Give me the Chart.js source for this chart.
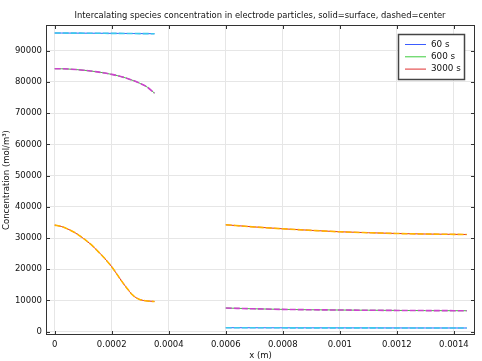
<!DOCTYPE html>
<html lang="en">
<head>
<meta charset="UTF-8">
<title>concentration</title>
<script src="https://cdn.jsdelivr.net/npm/chart.js"></script>
<style>
  html, body { margin: 0; padding: 0; background: #fff; }
  #wrap { width: 482px; height: 361px; }
</style>
</head>
<body>
<div id="wrap"><canvas id="canvas" width="482" height="361"></canvas></div>
<script>
// x positions (m) in the negative and positive electrode
const xNeg = [0, 0.000025, 0.00005, 0.000075, 0.0001, 0.000125, 0.00015, 0.000175,
              0.0002, 0.000225, 0.00025, 0.000275, 0.0003, 0.000325, 0.00035];
const xPos = [0.0006, 0.0007, 0.0008, 0.0009, 0.001, 0.0011, 0.0012, 0.0013, 0.0014, 0.001445];

// surface concentration (mol/m^3)
const neg60   = [95650, 95640, 95630, 95615, 95600, 95590, 95575, 95560, 95545, 95530, 95510, 95490, 95470, 95450, 95430];
const neg600  = [84230, 84200, 84100, 83950, 83750, 83500, 83200, 82850, 82400, 81880, 81250, 80450, 79500, 78300, 76400];
const neg3000 = [34130, 33650, 32700, 31500, 29900, 28100, 25900, 23500, 20800, 17500, 14300, 11600, 10250, 9850, 9650];
const pos60   = [1280, 1260, 1240, 1230, 1220, 1210, 1200, 1190, 1185, 1180];
const pos600  = [7580, 7330, 7140, 7030, 6940, 6870, 6810, 6760, 6730, 6720];
const pos3000 = [34230, 33550, 32950, 32450, 32000, 31700, 31450, 31280, 31170, 31130];

// center values lie on top of the surface ones at this scale
const labels = ['60 s', '600 s', '3000 s'];
const solidColors  = ['#3b5cff', '#3ccc3c', '#e03030'];
const dashedColors = ['#3cc8ec', '#cc44cc', '#ffb400'];

const xTicks = [0, 0.0002, 0.0004, 0.0006, 0.0008, 0.001, 0.0012, 0.0014];
const yTicks = [0, 10000, 20000, 30000, 40000, 50000, 60000, 70000, 80000, 90000];

function joinPoints(neg, pos) {
    const pts = xNeg.map((x, i) => ({ x: x, y: neg[i] }));
    pts.push({ x: 0.000475, y: null });
    xPos.forEach((x, i) => pts.push({ x: x, y: pos[i] }));
    return pts;
}

const series = [[neg60, pos60], [neg600, pos600], [neg3000, pos3000]];
const datasets = [];
series.forEach((s, i) => {
    datasets.push({ label: labels[i], data: joinPoints(s[0], s[1]), borderColor: solidColors[i],
                    borderWidth: 1, order: 2 });
});
series.forEach((s, i) => {
    datasets.push({ label: labels[i] + ' center', data: joinPoints(s[0], s[1]), borderColor: dashedColors[i],
                    borderWidth: 1.6, borderDash: [6, 2], order: 1 });
});

const font = { family: 'DejaVu Sans', size: 8.5 };

// frame, inward ticks on all sides, title and legend
const decor = {
    id: 'decor',
    afterDraw(chart) {
        const c = chart.ctx, a = chart.chartArea;
        const xs = chart.scales.x, ys = chart.scales.y;
        c.save();
        c.strokeStyle = '#333';
        c.lineWidth = 1;
        c.beginPath();
        xTicks.forEach(v => {
            const px = Math.round(xs.getPixelForValue(v)) + 0.5;
            c.moveTo(px, a.bottom); c.lineTo(px, a.bottom - 4);
            c.moveTo(px, a.top); c.lineTo(px, a.top + 4);
        });
        yTicks.forEach(v => {
            const py = Math.round(ys.getPixelForValue(v)) + 0.5;
            c.moveTo(a.left, py); c.lineTo(a.left + 4, py);
            c.moveTo(a.right, py); c.lineTo(a.right - 4, py);
        });
        c.stroke();
        c.strokeRect(a.left + 0.5, a.top + 0.5, a.right - a.left - 1, a.bottom - a.top - 1);

        c.fillStyle = '#111';
        c.font = '8.4px "DejaVu Sans"';
        c.textAlign = 'center';
        c.textBaseline = 'middle';
        c.fillText('Intercalating species concentration in electrode particles, solid=surface, dashed=center', 260, 16);

        // legend
        const lx = 398, ly = 34, lw = 66, lh = 45;
        c.fillStyle = '#fff';
        c.fillRect(lx, ly, lw, lh);
        c.strokeStyle = '#444';
        c.lineWidth = 1.5;
        c.strokeRect(lx + 0.5, ly + 0.5, lw, lh);
        c.textAlign = 'left';
        c.font = '8.8px "DejaVu Sans"';
        labels.forEach((t, i) => {
            const y = 44.5 + i * 12.3;
            c.strokeStyle = solidColors[i];
            c.lineWidth = 1;
            c.beginPath(); c.moveTo(405, y); c.lineTo(426, y); c.stroke();
            c.fillStyle = '#111';
            c.fillText(t, 431, y);
        });
        c.restore();
    }
};

new Chart(document.getElementById('canvas'), {
    type: 'line',
    data: { datasets: datasets },
    options: {
        responsive: false,
        animation: false,
        layout: { padding: { top: 25, right: 7, left: 0, bottom: 0 } },
        elements: { point: { radius: 0 }, line: { cubicInterpolationMode: 'monotone' } },
        spanGaps: false,
        plugins: { legend: { display: false }, tooltip: { enabled: false }, title: { display: false } },
        scales: {
            x: {
                type: 'linear',
                min: -0.0000305, max: 0.001474,
                afterBuildTicks: s => { s.ticks = xTicks.map(v => ({ value: v })); },
                afterFit: s => { s.height = 26; },
                grid: { color: '#e6e6e6', drawTicks: false },
                border: { display: false },
                ticks: { font: font, color: '#111', padding: 5, maxRotation: 0,
                         callback: v => String(parseFloat(v.toFixed(6))) },
                title: { display: true, text: 'x (m)', font: font, color: '#111', padding: { top: 0, bottom: 0 } }
            },
            y: {
                type: 'linear',
                min: -1060, max: 98220,
                afterBuildTicks: s => { s.ticks = yTicks.map(v => ({ value: v })); },
                afterFit: s => { s.width = 46; },
                grid: { color: '#e6e6e6', drawTicks: false },
                border: { display: false },
                ticks: { font: font, color: '#111', padding: 4, callback: v => String(v) },
                title: { display: true, text: 'Concentration (mol/m³)', font: font, color: '#111', padding: { top: 2, bottom: 0 } }
            }
        }
    },
    plugins: [decor]
});
</script>
</body>
</html>
